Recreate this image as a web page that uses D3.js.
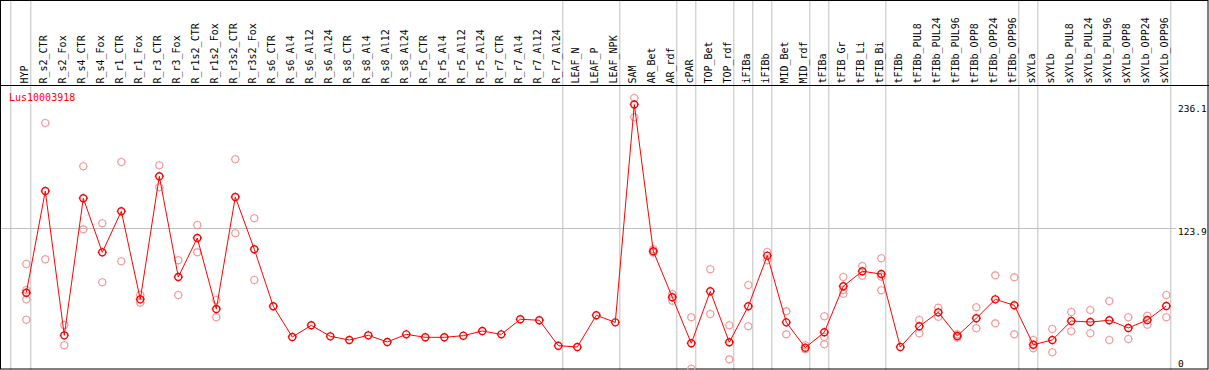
<!DOCTYPE html>
<html>
<head>
<meta charset="utf-8">
<script src="https://cdn.jsdelivr.net/npm/d3@7"></script>
<style>
  body { margin: 0; background: #fff; }
  text { font-family: "DejaVu Sans Mono", "Liberation Mono", monospace; }
</style>
</head>
<body>
<svg id="paper"></svg>
<script>
// chart data
const geneName = "Lus10003918";
const categories = ["HYP", "R_s2_CTR", "R_s2_Fox", "R_s4_CTR", "R_s4_Fox", "R_r1_CTR", "R_r1_Fox",
    "R_r3_CTR", "R_r3_Fox", "R_r1s2_CTR", "R_r1s2_Fox", "R_r3s2_CTR", "R_r3s2_Fox",
    "R_s6_CTR", "R_s6_Al4", "R_s6_Al12", "R_s6_Al24", "R_s8_CTR", "R_s8_Al4", "R_s8_Al12", "R_s8_Al24",
    "R_r5_CTR", "R_r5_Al4", "R_r5_Al12", "R_r5_Al24", "R_r7_CTR", "R_r7_Al4", "R_r7_Al12", "R_r7_Al24",
    "LEAF_N", "LEAF_P", "LEAF_NPK", "SAM", "AR_Bet", "AR_rdf", "cPAR", "TOP_Bet", "TOP_rdf",
    "iFIBa", "iFIBb", "MID_Bet", "MID_rdf", "tFIBa", "tFIB_Gr", "tFIB_Li", "tFIB_Bi",
    "tFIBb", "tFIBb_PUL8", "tFIBb_PUL24", "tFIBb_PUL96", "tFIBb_OPP8", "tFIBb_OPP24", "tFIBb_OPP96",
    "sXYLa", "sXYLb", "sXYLb_PUL8", "sXYLb_PUL24", "sXYLb_PUL96", "sXYLb_OPP8", "sXYLb_OPP24", "sXYLb_OPP96"];

const means = [65.1, 157.5, 26.4, 150.9, 101.8, 139.1, 59.1, 170.9, 79.4, 114.8, 50.3, 152.1, 104.6,
    52.8, 24.9, 35.5, 25.5, 22.2, 26.4, 20.4, 27.3,
    24.6, 24.6, 26.1, 30.3, 27.3, 41.0, 40.1, 17.0,
    15.8, 44.6, 38.2, 236.1, 102.8, 61.0, 19.2, 66.4, 20.1,
    52.8, 98.8, 38.2, 15.2, 29.2, 71.0, 84.6, 82.1,
    15.8, 34.6, 47.3, 25.8, 41.9, 59.1, 53.7,
    17.9, 22.2, 39.4, 38.5, 40.1, 33.1, 40.3, 53.1];

const replicates = [[91.2, 67.6, 59.1, 40.6], [219.3, 95.5], [35.8, 17.4], [180.0, 122.7], [128.2, 74.6],
    [183.9, 93.7], [63.1, 56.1], [180.9, 160.9], [94.6, 63.1], [126.6, 101.8], [58.5, 42.8],
    [186.3, 119.1], [132.7, 76.7],
    [], [], [], [], [], [], [], [],
    [], [], [], [], [], [], [], [],
    [], [], [], [242.0, 224.5], [104.6, 101.5], [64.0, 57.9], [42.8, -3.9], [86.4, 45.8], [35.5, 4.6],
    [72.1, 34.6], [102.1, 94.9], [48.2, 27.3], [17.4, 13.7], [43.7, 24.9, 18.3], [79.4, 67.6, 64.2],
    [89.4, 80.6], [96.4, 79.7, 67.3],
    [], [40.3, 28.3], [51.5, 43.3], [27.3, 24.4], [51.9, 32.8], [80.9, 37.3], [79.1, 27.3],
    [22.2, 14.6], [32.2, 11.0], [47.6, 30.1], [49.4, 28.3], [57.6, 22.2], [42.8, 23.1], [44.2, 36.1], [63.1, 42.8]];

// a divider is drawn after each of these
const groupEnds = ["HYP", "R_r7_Al24", "LEAF_NPK", "AR_rdf", "cPAR", "TOP_rdf", "iFIBa", "iFIBb",
    "MID_rdf", "tFIBa", "tFIB_Bi", "tFIBb_OPP96", "sXYLa", "sXYLb_OPP96"];

const yTicks = [0, 123.9, 236.1];

// dimensions
let width = 1209, height = 370, headerY = 85.5;
let red = "#ff0000", pink = "#f09a9a", grid = "#c0c0c0";

let svg = d3.select("#paper").attr("width", width).attr("height", height);

let x = d3.scalePoint().domain(categories).range([26.3, 26.3 + 19 * (categories.length - 1)]);
let y = d3.scaleLinear().domain([0, 236.1]).range([364.4, 104.5]);

// circle with little ticks, like the original markers
function marker(r) {
    let p = d3.path();
    p.moveTo(r, 0);
    p.arc(0, 0, r, 0, 2 * Math.PI);
    [[0, -1], [0, 1], [-1, 0], [1, 0]].forEach(function (d) {
        p.moveTo(d[0] * r, d[1] * r);
        p.lineTo(d[0] * (r + 1), d[1] * (r + 1));
    });
    return p.toString();
}

// vertical group dividers
let dividers = [x(categories[0]) - 15.5].concat(groupEnds.map(c => x(c) + 4.5));
svg.selectAll("line.div")
    .data(dividers)
    .enter()
    .append("line")
    .attr("class", "div")
    .attr("x1", d => d).attr("x2", d => d)
    .attr("y1", 0).attr("y2", height)
    .style("stroke", grid)
    .style("stroke-width", 1);

// horizontal grid line at middle tick
svg.append("line")
    .attr("x1", 0).attr("x2", 1176)
    .attr("y1", Math.round(y(123.9)) + 0.5).attr("y2", Math.round(y(123.9)) + 0.5)
    .style("stroke", grid);

// header separator and frame
svg.append("line")
    .attr("x1", 0).attr("x2", width).attr("y1", headerY).attr("y2", headerY)
    .style("stroke", "#000").style("stroke-width", 1.2);
svg.append("rect")
    .attr("x", 0.5).attr("y", 0.5).attr("width", width - 1.5).attr("height", height - 1.5)
    .style("fill", "none").style("stroke", "#000");

// column labels
svg.selectAll("text.lab")
    .data(categories)
    .enter()
    .append("text")
    .attr("class", "lab")
    .attr("transform", d => "translate(" + (x(d) - 2) + "," + 83.5 + ") rotate(-90)")
    .attr("dominant-baseline", "central")
    .style("font-size", "10px")
    .text(d => d);

// right axis labels
svg.selectAll("text.tick")
    .data(yTicks)
    .enter()
    .append("text")
    .attr("class", "tick")
    .attr("x", 1178)
    .attr("y", d => Math.min(y(d) + 3.5, 363))
    .attr("dominant-baseline", "central")
    .style("font-size", "9.5px")
    .text(d => d);

// title
svg.append("text")
    .attr("x", 9).attr("y", 101)
    .style("font-size", "10px")
    .style("fill", red)
    .text(geneName);

let plot = svg.append("g");

// replicate points
let reps = [];
replicates.forEach(function (vals, i) {
    vals.forEach(v => reps.push({cat: categories[i], v: v}));
});
plot.selectAll("path.rep")
    .data(reps)
    .enter()
    .append("path")
    .attr("class", "rep")
    .attr("d", marker(3.5))
    .attr("transform", d => "translate(" + x(d.cat) + "," + y(d.v) + ")")
    .style("fill", "none")
    .style("stroke", pink)
    .style("stroke-width", 1.1);

// mean line
let line = d3.line()
    .x((d, i) => x(categories[i]))
    .y(d => y(d));
plot.append("path")
    .attr("d", line(means))
    .style("fill", "none")
    .style("stroke", red)
    .style("stroke-width", 1);

// mean points
plot.selectAll("path.mean")
    .data(means)
    .enter()
    .append("path")
    .attr("class", "mean")
    .attr("d", marker(3.5))
    .attr("transform", (d, i) => "translate(" + x(categories[i]) + "," + y(d) + ")")
    .style("fill", "none")
    .style("stroke", red)
    .style("stroke-width", 1.4);
</script>
</body>
</html>
